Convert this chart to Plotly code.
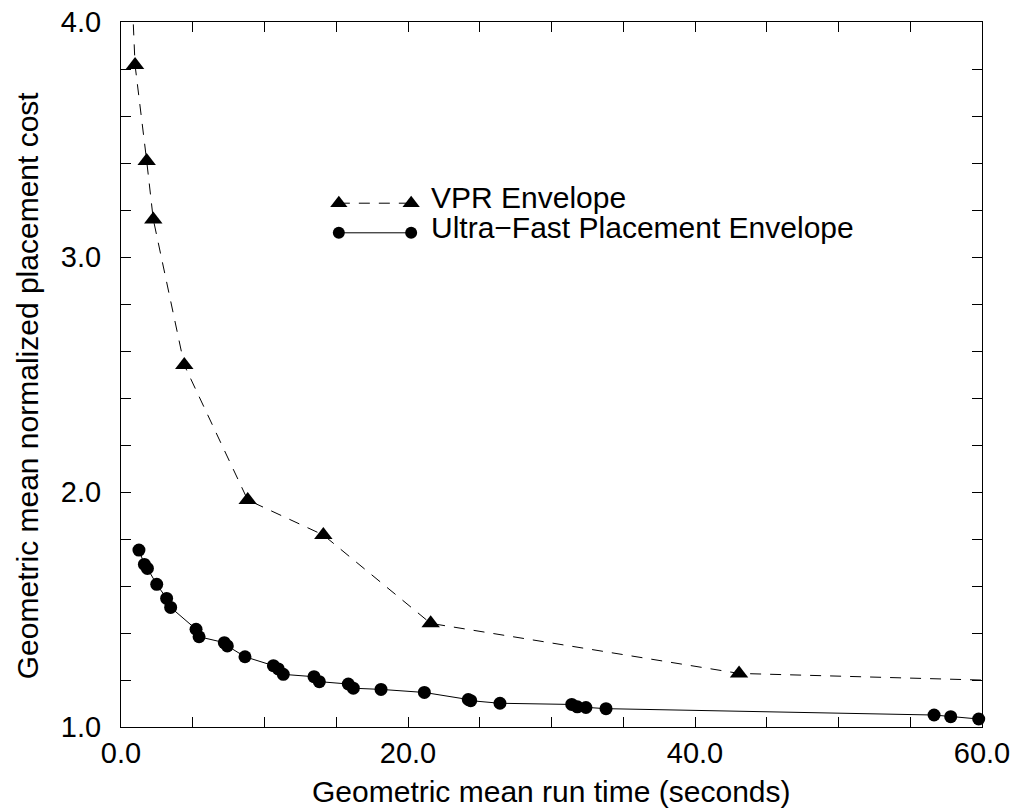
import plotly.graph_objects as go

# VPR envelope (first and last points lie outside the visible range; the line is clipped)
vpr_x = [0.5, 0.98, 1.79, 2.25, 4.41, 8.83, 14.1, 21.58, 43.07, 70.0]
vpr_y = [4.5, 3.817, 3.409, 3.160, 2.540, 1.966, 1.817, 1.441, 1.228, 1.183]

# Ultra-Fast Placement envelope
ufp_x = [1.25, 1.63, 1.84, 2.49, 3.18, 3.46, 5.23, 5.44, 7.20, 7.41, 8.64,
         10.62, 10.96, 11.31, 13.45, 13.82, 15.84, 16.19, 18.12, 21.14,
         24.20, 24.37, 26.41, 31.41, 31.80, 32.40, 33.80, 56.66, 57.82, 59.77]
ufp_y = [1.753, 1.692, 1.675, 1.607, 1.547, 1.509, 1.416, 1.384, 1.359, 1.345, 1.299,
         1.261, 1.247, 1.224, 1.214, 1.193, 1.183, 1.165, 1.160, 1.147,
         1.117, 1.112, 1.101, 1.096, 1.086, 1.083, 1.078, 1.051, 1.044, 1.034]

series_names = ["VPR Envelope", "Ultra\u2212Fast Placement Envelope"]

FONT = "Liberation Sans, Arial, Helvetica, sans-serif"
FS_TICK = 29
FS = 30

fig = go.Figure()
fig.add_trace(go.Scatter(
    x=vpr_x, y=vpr_y, mode="lines+markers", name=series_names[0],
    line=dict(color="black", width=1, dash="11px,9px"),
    marker=dict(symbol="triangle-up", size=16, color="black"),
    cliponaxis=False, showlegend=False))
fig.add_trace(go.Scatter(
    x=ufp_x, y=ufp_y, mode="lines+markers", name=series_names[1],
    line=dict(color="black", width=1),
    marker=dict(symbol="circle", size=13, color="black"),
    cliponaxis=False, showlegend=False))

# Custom legend drawn on an overlay axis in [0,1] paper-like coordinates
leg_x = [0.253, 0.337]
leg_rows = [0.743, 0.701]
fig.add_trace(go.Scatter(
    x=leg_x, y=[leg_rows[0]] * 2, xaxis="x2", yaxis="y2", mode="lines+markers",
    line=dict(color="black", width=1, dash="11px,9px"),
    marker=dict(symbol="triangle-up", size=15, color="black"),
    showlegend=False, hoverinfo="skip"))
fig.add_trace(go.Scatter(
    x=leg_x, y=[leg_rows[1]] * 2, xaxis="x2", yaxis="y2", mode="lines+markers",
    line=dict(color="black", width=1),
    marker=dict(symbol="circle", size=12, color="black"),
    showlegend=False, hoverinfo="skip"))
for name, yy in zip(series_names, leg_rows):
    fig.add_annotation(x=0.358, y=yy + 0.008, xref="x2", yref="y2", text=name,
                       showarrow=False, xanchor="left", yanchor="middle",
                       font=dict(family=FONT, size=FS, color="black"))

axis_common = dict(
    showgrid=False, zeroline=False, showline=True, linecolor="black", linewidth=1,
    mirror="ticks", ticks="inside", ticklen=10, tickwidth=1, tickcolor="black",
    tickfont=dict(family=FONT, size=FS_TICK, color="black"), tickformat=".1f",
    ticklabeloverflow="allow", automargin=False,
)
fig.update_layout(
    width=1016, height=809,
    margin=dict(l=121, r=34, t=22, b=82, autoexpand=False),
    paper_bgcolor="white", plot_bgcolor="white",
    xaxis=dict(range=[0, 60], dtick=20, tick0=0,
               minor=dict(dtick=5, ticks="inside", ticklen=10, tickcolor="black"),
               ticklabelstandoff=0, **axis_common),
    yaxis=dict(range=[1, 4], dtick=1, tick0=1,
               minor=dict(dtick=0.2, ticks="inside", ticklen=10, tickcolor="black"),
               ticklabelstandoff=13, **axis_common),
    xaxis2=dict(range=[0, 1], overlaying="x", visible=False, fixedrange=True),
    yaxis2=dict(range=[0, 1], overlaying="y", visible=False, fixedrange=True),
    showlegend=False,
)
fig.add_annotation(x=0.5, y=-0.092, xref="paper", yref="paper",
                   text="Geometric mean run time (seconds)", showarrow=False,
                   xanchor="center", yanchor="middle",
                   font=dict(family=FONT, size=FS, color="black"))
fig.add_annotation(x=-0.109, y=0.485, xref="paper", yref="paper",
                   text="Geometric mean normalized placement cost", showarrow=False,
                   textangle=-90, xanchor="center", yanchor="middle",
                   font=dict(family=FONT, size=FS, color="black"))

fig.write_html(
    "out.html",
    config={"displayModeBar": False},
    post_script="document.body.style.margin='0';document.body.style.overflow='hidden';",
)
